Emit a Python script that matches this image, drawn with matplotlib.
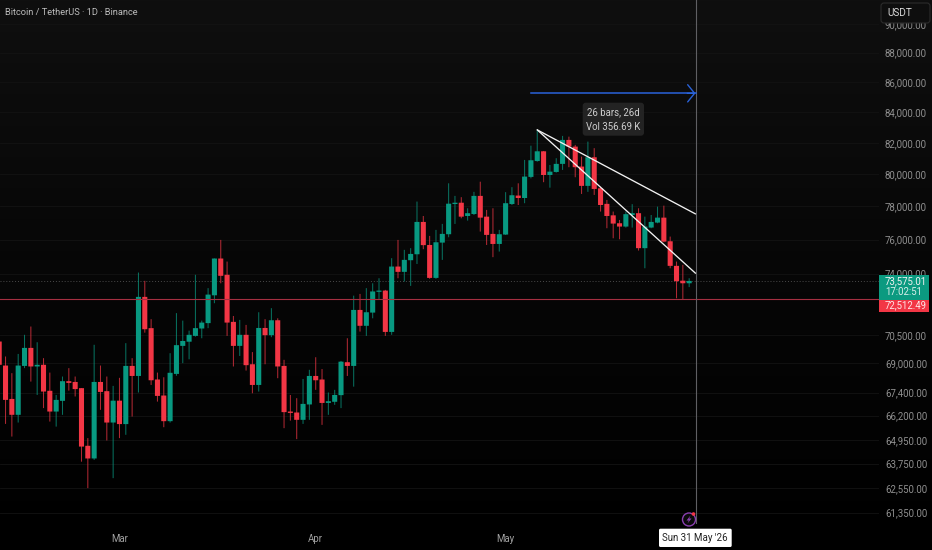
import numpy as np
import pandas as pd
import matplotlib
matplotlib.use("Agg")
import matplotlib.pyplot as plt
import matplotlib.dates as mdates
from matplotlib.patches import FancyBboxPatch, Circle, Rectangle, Polygon

plt.rcParams['font.family'] = ['Roboto', 'DejaVu Sans']

first_day = "2026-02-10"
opens = [70160,68850,67070,66240,68830,69810,68800,68890,67500,66410,
         66970,68010,67970,67640,64650,64010,67970,67480,65840,66980,
         65760,68830,68290,72660,70900,68100,67250,65910,68400,69920,
         70150,70470,70880,71180,72750,74880,73930,71250,69920,70530,
         68920,67810,70910,70510,71340,68830,66410,66360,65980,66780,
         68290,68100,66860,66920,67270,69030,68830,71920,71030,71770,
         72950,73020,70690,74410,74100,74780,75130,77060,75680,73750,
         75820,76320,78150,78230,77420,77540,78650,77380,76340,75740,
         76300,78150,78670,78520,79830,80830,81450,79950,80140,80650,
         82180,81750,80480,79270,81070,79120,78160,77460,76980,76780,
         77480,77590,75490,76720,77020,77320,75900,74450,73590,73440]
closes = [68890,67020,66240,68850,69810,68800,68890,67460,66410,67020,
          68010,67920,67590,64610,64010,67970,67440,65840,66980,65760,
          68830,68290,72660,70840,68060,67230,65910,68460,69960,70190,
          70530,70900,71210,72790,74880,73870,71210,69920,70530,68870,
          67810,70910,70510,71340,68800,66380,66340,65980,66810,68290,
          68060,66860,66950,67280,69060,68830,71920,71030,71790,72970,
          73020,70690,74410,74100,74800,75150,77060,75670,73750,75840,
          76340,78170,78230,77380,77590,78650,77320,76280,75740,76320,
          78200,78690,78520,79850,80880,81450,79950,80160,80650,82180,
          81750,80440,79270,81070,79080,78090,77420,76960,76780,77530,
          77590,75490,76780,77060,77320,75880,74450,73560,73440,73575.01]
highs = [70900,69340,68440,69480,70530,70990,70120,69250,68470,67280,
         68260,68710,68260,67640,65040,69980,68850,68260,67760,68190,
         70070,69250,74060,73580,71400,68470,68220,69520,71740,71320,
         70760,73930,71320,73160,74880,75980,74700,71580,71360,71080,
         69580,71790,71400,72020,71450,69160,67280,67110,68130,68620,
         69300,68660,67410,67550,69100,70340,72730,72830,73160,73440,
         73730,73060,74900,75980,75390,75490,78300,77420,76220,76580,
         76940,79430,78650,78570,77890,78900,79530,77790,77890,76580,
         78880,79190,79430,80900,81810,82830,81470,80580,81010,82440,
         82390,81860,81110,82070,81650,79220,78400,77690,77180,77690,
         78140,77890,77380,77480,77990,78050,76180,74700,74510,73730]
lows = [68620,65770,65120,65840,68710,67990,67280,66590,65890,65630,
        66240,67510,67200,63850,62540,63940,66500,64920,63030,65040,
        65210,66150,67410,70650,67810,66930,65600,65840,68300,68980,
        69190,70430,70340,70900,72300,73440,70470,68800,69370,68580,
        67370,67460,68920,70400,68170,65550,65940,64990,65770,65980,
        67550,65720,66240,66760,66590,68290,67720,70710,70470,71450,
        72490,70470,70530,73730,73540,73290,74560,75430,73700,73700,
        74800,76140,76940,77280,77140,77480,76480,75680,74960,75290,
        76280,78090,78090,78200,79740,80790,79500,79160,80100,80270,
        80440,79810,78770,78900,78710,77690,76680,76080,76020,76720,
        76720,75350,74310,76680,76980,75840,74310,72580,72490,73220]

price_ticks = [90000,88000,86000,84000,82000,80000,78000,76000,74000,
               70500,69000,67400,66200,64950,63750,62550,61350]
month_ticks = ["2026-03-01", "2026-04-01", "2026-05-01"]
month_labels = ["Mar", "Apr", "May"]

last_price = 73575.01
alert_price = 72512.49
marker_day = "2026-05-31"
trend_start = ("2026-05-06", 82830)
trend_end_upper = ("2026-05-31", 77545)
trend_end_lower = ("2026-05-31", 74020)
arrow_start = ("2026-05-05", 85240)

UP = "#089981"
DOWN = "#f23645"
W, H = 932, 550
fig = plt.figure(figsize=(W/100, H/100), dpi=100)

# background gradient
bg = fig.add_axes([0, 0, 1, 1], zorder=-1)
bg.axis("off")
stops = np.interp(np.arange(H), [0, 250, 500, 549], [15, 7, 1, 0])
img = np.repeat(stops[:, None, None], 3, axis=2).astype(np.uint8)
bg.imshow(img, aspect="auto", extent=[0, 1, 0, 1])

# price pane
PX_PER_DAY = 6.33
PANE_BOTTOM, PANE_RIGHT = 524, 879
ax = fig.add_axes([0, 1 - PANE_BOTTOM/H, PANE_RIGHT/W, PANE_BOTTOM/H], zorder=1)
ax.patch.set_alpha(0)
ax.set_yscale("log")
ax.set_ylim(60803, 91713)
dn = lambda s: mdates.date2num(pd.Timestamp(s))
d_mark = dn(marker_day)
ax.set_xlim(d_mark - 695.5/PX_PER_DAY, d_mark + (PANE_RIGHT - 695.5)/PX_PER_DAY)

days = mdates.date2num(pd.date_range(first_day, periods=len(opens), freq="D"))
o, c, h, l = map(np.array, (opens, closes, highs, lows))
colors = np.where(c >= o, UP, DOWN)
wicks = ax.vlines(days, l, h, colors=colors, linewidth=0.75, alpha=0.72, zorder=3)
wicks.set_snap(False)
bars = ax.bar(days, np.abs(c - o), bottom=np.minimum(o, c), width=0.8,
              color=colors, linewidth=0, zorder=4)
for b in bars:
    b.set_snap(False)

for p in price_ticks:
    ax.axhline(p, color="#131313", linewidth=0.6, zorder=1)
ax.axhline(last_price, color="#4a4a4a", linewidth=0.7, linestyle=(0, (1, 2)), zorder=2)
ax.axhline(alert_price, color="#a52f41", linewidth=0.8, zorder=5)
ax.axvline(d_mark, color="#5f5f63", linewidth=0.8, zorder=5)

for end in (trend_end_upper, trend_end_lower):
    ax.plot([dn(trend_start[0]), dn(end[0])], [trend_start[1], end[1]],
            color="#f2f2f2", linewidth=0.95, zorder=6, solid_capstyle="round")
ax.plot([dn(arrow_start[0]), d_mark], [arrow_start[1], arrow_start[1]],
        color="#2962d9", linewidth=1.1, zorder=6)
ax.annotate("", xy=(d_mark, arrow_start[1]), xytext=(d_mark - 1.3, arrow_start[1]),
            arrowprops=dict(arrowstyle="->,head_length=0.5,head_width=0.62",
                            color="#2962d9", lw=1.0, shrinkA=0, shrinkB=0), zorder=6)

ax.minorticks_off()
ax.yaxis.tick_right()
ax.set_yticks(price_ticks, [f"{p:,.2f}" for p in price_ticks])
ax.tick_params(axis="y", which="both", length=0, pad=4.3, labelsize=6.9, labelcolor="#8f8f8f")
ax.set_xticks([dn(s) for s in month_ticks], month_labels)
ax.tick_params(axis="x", which="both", length=0, pad=7.4, labelsize=6.9, labelcolor="#a0a0a0")
for s in ax.spines.values():
    s.set_visible(False)

# overlay chrome, in pixel units
ov = fig.add_axes([0, 0, 1, 1], zorder=5)
ov.set_xlim(0, W)
ov.set_ylim(H, 0)
ov.axis("off")
ov.patch.set_alpha(0)

def box(x0, y0, x1, y1, fc, ec="none", r=2.0, lw=0.8):
    ov.add_patch(FancyBboxPatch((x0 + r, y0 + r), x1 - x0 - 2*r, y1 - y0 - 2*r,
                                boxstyle=f"round,pad={r},rounding_size={r}",
                                fc=fc, ec=ec, lw=lw))

def label(x, y, s, color, size=6.9, ha="left"):
    ov.text(x, y, s, color=color, fontsize=size, ha=ha, va="center")

label(5, 12.5, "Bitcoin / TetherUS · 1D · Binance", "#bcbcbc", 6.7)
box(881, 3, 930, 23, "#0e0e0e", "#2b2b2b", r=3)
label(887, 12.8, "USDT", "#d8d8d8", 7.2)

ov.add_patch(Rectangle((878.5, 275), 50.5, 25, fc="#0b9a80", ec="none"))
ov.add_patch(Rectangle((878.5, 300), 50.5, 12, fc="#f23645", ec="none"))
label(885, 281.5, f"{last_price:,.2f}", "#f2f2f2")
label(885, 292, "17:02:51", "#d6efe9")
label(885, 305.5, f"{alert_price:,.2f}", "#ffe4e6")

box(582.7, 102.7, 644, 135.7, "#232323", r=3)
label(613.3, 112, "26 bars, 26d", "#cfcfcf", ha="center")
label(613.3, 127, "Vol 356.69 K", "#cfcfcf", ha="center")

box(659, 528.7, 731.7, 547, "#ffffff", r=1.5)
label(695.3, 538, "Sun 31 May '26", "#222222", 7.0, ha="center")

ov.add_patch(Circle((689, 519.5), 6.5, fc="#0a0a0a", ec="#8a3fb0", lw=1.0))
ov.add_patch(Polygon([[690.5, 515.5], [686.5, 520.5], [688.8, 520.5], [687.5, 523.5],
                      [691.5, 518.5], [689.2, 518.5]], closed=True, fc="#8a3fb0", ec="none"))
ov.add_patch(Circle((693.5, 514), 1.8, fc="#f23645", ec="none"))

fig.savefig("out.png", dpi=100, facecolor="black")
